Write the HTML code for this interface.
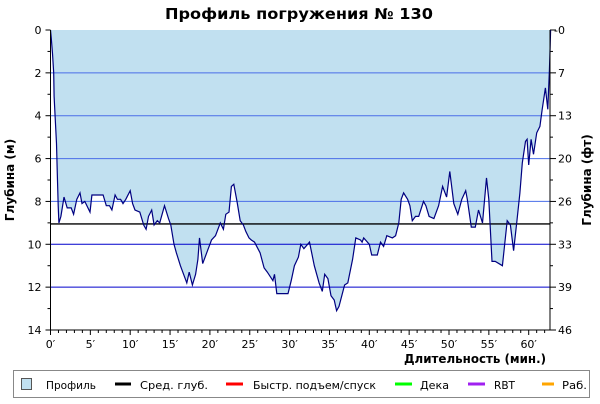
<!DOCTYPE html>
<html><head><meta charset="utf-8"><style>
body{margin:0;background:#fff;width:600px;height:400px;overflow:hidden;font-family:"DejaVu Sans","Liberation Sans",sans-serif;}
svg text{font-family:"DejaVu Sans","Liberation Sans",sans-serif;}
</style></head><body>
<svg id="chart" width="600" height="400" xmlns="http://www.w3.org/2000/svg">
<text x="165" y="19" font-size="15" font-weight="bold" textLength="268" lengthAdjust="spacingAndGlyphs">Профиль погружения № 130</text>
<g id="plot"></g>
<text transform="translate(14,180) rotate(-90)" text-anchor="middle" font-size="12" font-weight="bold">Глубина (м)</text>
<text transform="translate(591,180) rotate(-90)" text-anchor="middle" font-size="12" font-weight="bold">Глубина (фт)</text>
<text x="404" y="363" font-size="12" font-weight="bold" textLength="142" lengthAdjust="spacingAndGlyphs">Длительность (мин.)</text>
<g>
<rect x="13.5" y="370.5" width="576" height="27" fill="#fff" stroke="#888"/>
<rect x="21.5" y="378.5" width="10" height="11" fill="#c1e0f0" stroke="#555"/>
<text x="46" y="389" font-size="11" textLength="50" lengthAdjust="spacingAndGlyphs">Профиль</text>
<line x1="115" y1="384" x2="131" y2="384" stroke="#000" stroke-width="3"/>
<text x="140" y="389" font-size="11" textLength="68" lengthAdjust="spacingAndGlyphs">Сред. глуб.</text>
<line x1="226" y1="384" x2="243" y2="384" stroke="#f00" stroke-width="3"/>
<text x="253" y="389" font-size="11" textLength="123" lengthAdjust="spacingAndGlyphs">Быстр. подъем/спуск</text>
<line x1="395" y1="384" x2="412" y2="384" stroke="#0f0" stroke-width="3"/>
<text x="420" y="389" font-size="11" textLength="29" lengthAdjust="spacingAndGlyphs">Дека</text>
<line x1="468" y1="384" x2="485" y2="384" stroke="#a020f0" stroke-width="3"/>
<text x="494" y="389" font-size="11" textLength="21" lengthAdjust="spacingAndGlyphs">RBT</text>
<line x1="542" y1="384" x2="554" y2="384" stroke="#ffa500" stroke-width="3"/>
<text x="562" y="389" font-size="11" textLength="25" lengthAdjust="spacingAndGlyphs">Раб.</text>
</g>
</svg>
<script>
const times=[0,0.1,0.25,0.4,0.45,0.6,0.75,0.85,0.97,1.05,1.3,1.7,2.1,2.6,2.9,3.3,3.7,3.95,4.3,4.95,5.2,6.6,7.0,7.4,7.7,8.1,8.4,8.8,9.1,9.45,10.0,10.3,10.6,11.2,11.7,12.0,12.3,12.7,13.0,13.4,13.7,14.3,14.8,15.1,15.5,15.8,16.3,16.7,17.1,17.4,17.8,18.2,18.5,18.7,19.1,19.7,20.2,20.7,21.3,21.7,22.0,22.4,22.7,23.0,23.4,23.8,24.2,24.5,24.9,25.2,25.6,26.3,26.8,27.2,27.9,28.1,28.4,29.8,30.2,30.6,31.1,31.4,31.8,32.5,33.1,33.7,34.1,34.4,34.8,35.2,35.6,35.9,36.2,36.9,37.3,37.9,38.3,38.9,39.1,39.3,40.0,40.3,41.0,41.4,41.8,42.2,42.9,43.3,43.7,44.0,44.3,44.8,45.1,45.4,45.8,46.2,46.8,47.1,47.5,48.1,48.7,49.2,49.7,50.1,50.6,51.1,51.6,52.1,52.3,52.8,53.3,53.7,54.2,54.7,55.0,55.4,55.8,56.7,57.3,57.7,58.1,58.5,58.9,59.2,59.6,59.8,60.0,60.3,60.6,61.0,61.4,61.7,62.1,62.4,62.6,62.7,62.75];
const depths=[0,0.4,1.1,2,3.1,4.2,5.3,6.7,8.2,9.0,8.7,7.8,8.3,8.3,8.6,7.9,7.6,8.1,8.0,8.5,7.7,7.7,8.2,8.2,8.4,7.7,7.9,7.9,8.1,7.9,7.5,8.1,8.4,8.5,9.1,9.3,8.7,8.4,9.1,8.9,9.0,8.2,8.8,9.1,10.0,10.4,11.0,11.4,11.8,11.3,11.9,11.4,10.7,9.7,10.9,10.3,9.8,9.6,9.0,9.3,8.6,8.5,7.3,7.2,8.0,8.9,9.1,9.4,9.7,9.8,9.9,10.4,11.1,11.3,11.7,11.4,12.3,12.3,11.7,11.0,10.6,10.0,10.2,9.9,11.0,11.8,12.2,11.4,11.6,12.4,12.6,13.1,12.9,11.9,11.8,10.7,9.7,9.8,9.9,9.7,10.0,10.5,10.5,9.9,10.1,9.6,9.7,9.6,9.0,7.9,7.6,7.9,8.2,8.9,8.7,8.7,8.0,8.2,8.7,8.8,8.2,7.3,7.8,6.6,8.1,8.6,7.9,7.5,7.9,9.2,9.2,8.4,9.0,6.9,7.9,10.8,10.8,11.0,8.9,9.1,10.3,9.0,7.6,6.2,5.2,5.1,6.3,5.1,5.8,4.8,4.5,3.7,2.7,3.7,1.9,0.7,0];
const avgDepth=9.05;
const yTicksM=[0,2,4,6,8,10,12,14];
const yTicksFt=["-0","7","13","20","26","33","39","46"];
const xTicksMin=[0,5,10,15,20,25,30,35,40,45,50,55,60];

const X0=50.5,Y0=30,PXM=7.97,PXD=300/14,XR=550,YB=330;
const xs=t=>X0+t*PXM, ys=d=>Y0+d*PXD;
const NS='http://www.w3.org/2000/svg';
const g=document.getElementById('plot');
function mk(tag,attrs){const e=document.createElementNS(NS,tag);for(const k in attrs)e.setAttribute(k,attrs[k]);g.appendChild(e);return e;}

let d='M'+xs(times[0])+','+Y0;
times.forEach((t,i)=>{d+=' L'+xs(t).toFixed(1)+','+ys(depths[i]).toFixed(1);});
const area=mk('path',{d:d+' Z',fill:'#c1e0f0',stroke:'none'});



yTicksM.forEach((m,i)=>{
  if(m>0&&m<14){const l=mk('line',{x1:X0,x2:XR,y1:ys(m),y2:ys(m),stroke:m>=10?'#0000cc':'#4a6ee8','stroke-width':1});
  
  }
  const t=mk('text',{x:X0-9,y:ys(m)+4,'text-anchor':'end','font-size':11});t.textContent=m;
  
  
  const r=mk('text',{x:XR+(i===0?4:8),y:ys(m)+4,'font-size':11});r.textContent=yTicksFt[i];
  
  
  mk('line',{x1:XR,x2:XR+6,y1:ys(m),y2:ys(m),stroke:'#000'});
  mk('line',{x1:X0-5,x2:X0,y1:ys(m),y2:ys(m),stroke:'#000'});
});
for(let m=1;m<14;m+=2){mk('line',{x1:X0-3,x2:X0,y1:ys(m),y2:ys(m),stroke:'#000'});mk('line',{x1:XR,x2:XR+3,y1:ys(m),y2:ys(m),stroke:'#000'});}

const av=mk('line',{x1:X0,x2:XR,y1:ys(avgDepth),y2:ys(avgDepth),stroke:'#000','stroke-width':1.3});



const pl=mk('path',{d:d.replace('M'+xs(times[0])+','+Y0+' L','M'),fill:'none',stroke:'#000080','stroke-width':1.2});



mk('line',{x1:X0,x2:X0,y1:Y0,y2:YB,stroke:'#000'});
mk('line',{x1:XR,x2:XR,y1:Y0,y2:YB,stroke:'#000'});
mk('line',{x1:X0,x2:XR,y1:YB,y2:YB,stroke:'#000'});
for(let t=0;t<=62;t++){mk('line',{x1:xs(t),x2:xs(t),y1:YB,y2:YB+(t%5===0?5:3),stroke:'#000'});}
xTicksMin.forEach(t=>{const e=mk('text',{x:xs(t),y:348,'text-anchor':'middle','font-size':11});e.textContent=t+'\u2032';

});
</script>
</body></html>
